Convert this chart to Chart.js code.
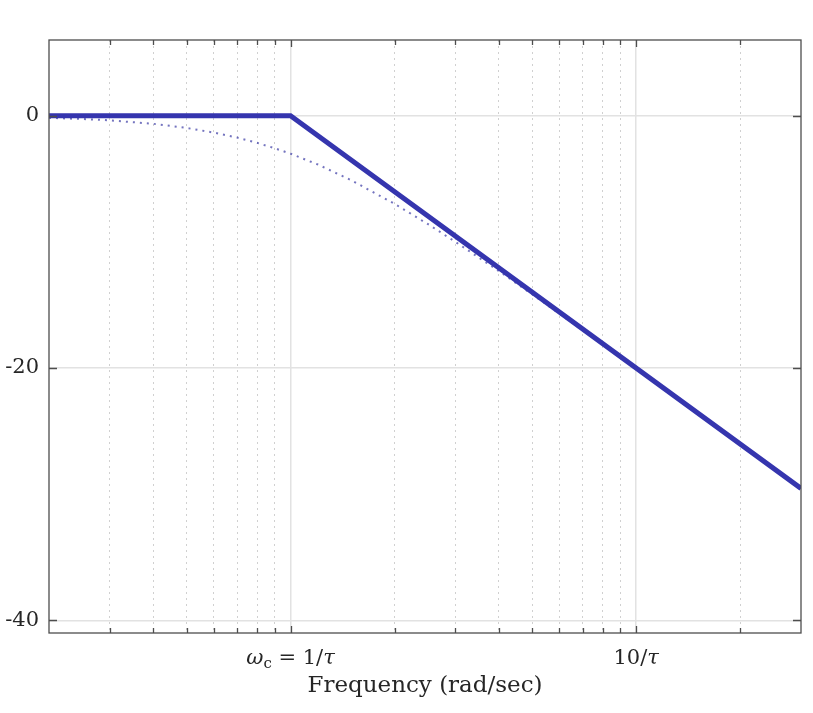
<!DOCTYPE html>
<html lang="en">
<head>
<meta charset="UTF-8">
<title>Bode magnitude</title>
<script src="https://cdn.jsdelivr.net/npm/chart.js"></script>
<style>
  html, body { margin: 0; padding: 0; background: #fff; }
  #wrap { width: 813px; height: 713px; }
</style>
</head>
<body>
<div id="wrap"><canvas id="bode" width="813" height="713"></canvas></div>
<script>
// straight-line asymptote (thick)
const asymFreq = [0.2, 1, 30];
const asymMag = [0, 0, -29.54];

const realFreq = [0.2, 0.25, 0.3, 0.4, 0.5, 0.6, 0.7, 0.8, 0.9, 1, 1.2, 1.5, 2, 2.5, 3, 4, 5, 6, 7, 8, 10, 15, 20, 30];
const realMag = [-0.17, -0.26, -0.37, -0.64, -0.97, -1.34, -1.73, -2.15, -2.58, -3.01, -3.87, -5.12, -6.99, -8.6, -10.0, -12.3, -14.15, -15.7, -17.0, -18.1, -20.04, -23.5, -26.0, -29.5];

const yTicks = [-40, -20, 0];
const yTickLabels = ['-40', '-20', '0'];
const xMajor = [1, 10];
const xMinor = [0.3, 0.4, 0.5, 0.6, 0.7, 0.8, 0.9, 2, 3, 4, 5, 6, 7, 8, 9, 20];
const xTickLabels = [
    [{t: 'ω', it: true}, {t: 'c', sub: true}, {t: ' = 1/'}, {t: 'τ', it: true}],
    [{t: '10/'}, {t: 'τ', it: true}]
];

const FONT = 'DejaVu Serif';
const TXT = '#262626';
const BLUE = '#3535ae';

function isMajor(v) { return xMajor.indexOf(v) >= 0; }

// axes box, inner tick marks, math style x labels
const framePlugin = {
    id: 'frame',
    afterDraw(chart) {
        const ctx = chart.ctx;
        const a = chart.chartArea;
        const xs = chart.scales.x, ys = chart.scales.y;
        ctx.save();
        ctx.strokeStyle = '#4d4d4d';
        ctx.lineWidth = 1.3;
        ctx.strokeRect(a.left, a.top, a.right - a.left, a.bottom - a.top);

        ctx.beginPath();
        xMajor.concat(xMinor).forEach(v => {
            const px = Math.round(xs.getPixelForValue(v)) + 0.5;
            const len = isMajor(v) ? 7 : 5;
            ctx.moveTo(px, a.bottom); ctx.lineTo(px, a.bottom - len);
            ctx.moveTo(px, a.top); ctx.lineTo(px, a.top + len);
        });
        yTicks.forEach(v => {
            const py = Math.round(ys.getPixelForValue(v)) + 0.5;
            ctx.moveTo(a.left, py); ctx.lineTo(a.left + 8, py);
            ctx.moveTo(a.right, py); ctx.lineTo(a.right - 8, py);
        });
        ctx.stroke();

        ctx.fillStyle = TXT;
        ctx.textBaseline = 'alphabetic';
        xMajor.forEach((v, i) => {
            const parts = xTickLabels[i];
            const fontFor = p => (p.it ? 'italic ' : '') + (p.sub ? '15px ' : '21px ') + FONT;
            let w = 0;
            parts.forEach(p => { ctx.font = fontFor(p); w += ctx.measureText(p.t).width; });
            let x = xs.getPixelForValue(v) - w / 2;
            const base = 664;
            parts.forEach(p => {
                ctx.font = fontFor(p);
                ctx.fillText(p.t, x, p.sub ? base + 4 : base);
                x += ctx.measureText(p.t).width;
            });
        });
        ctx.restore();
    }
};

new Chart(document.getElementById('bode'), {
    type: 'line',
    data: {
        datasets: [
            {
                label: 'Asymptote',
                data: asymFreq.map((f, i) => ({x: f, y: asymMag[i]})),
                borderColor: BLUE,
                borderWidth: 5,
                pointRadius: 0,
                order: 1
            },
            {
                label: 'Actual',
                data: realFreq.map((f, i) => ({x: f, y: realMag[i]})),
                borderColor: 'rgba(70, 70, 170, 0.75)',
                borderWidth: 2,
                borderDash: [2, 5],
                pointRadius: 0,
                order: 2
            }
        ]
    },
    options: {
        responsive: false,
        animation: false,
        layout: { padding: { left: 0, right: 12, top: 40, bottom: 0 } },
        plugins: { legend: { display: false }, tooltip: { enabled: false } },
        scales: {
            x: {
                type: 'logarithmic',
                min: 0.2,
                max: 30,
                afterBuildTicks: axis => {
                    axis.ticks = xMajor.concat(xMinor).map(v => ({value: v}));
                },
                afterFit: axis => { axis.height = 80; },
                ticks: { callback: () => '', autoSkip: false },
                grid: {
                    drawTicks: false,
                    color: c => isMajor(c.tick && c.tick.value) ? '#e2e2e2' : '#d0d0d0',
                    lineWidth: c => isMajor(c.tick && c.tick.value) ? 1.5 : 1
                },
                border: {
                    display: false,
                    dash: c => isMajor(c.tick && c.tick.value) ? [] : [2, 4]
                },
                title: {
                    display: true,
                    text: 'Frequency (rad/sec)',
                    color: TXT,
                    font: { family: FONT, size: 23 },
                    padding: { top: 0, bottom: 13 }
                }
            },
            y: {
                min: -41,
                max: 6,
                afterBuildTicks: axis => {
                    axis.ticks = yTicks.map(v => ({value: v}));
                },
                afterFit: axis => { axis.width = 49; },
                ticks: {
                    callback: v => yTickLabels[yTicks.indexOf(v)],
                    color: TXT,
                    padding: 10,
                    font: { family: FONT, size: 21 }
                },
                grid: { drawTicks: false, color: '#e2e2e2', lineWidth: 1.5 },
                border: { display: false }
            }
        }
    },
    plugins: [framePlugin]
});
</script>
</body>
</html>
